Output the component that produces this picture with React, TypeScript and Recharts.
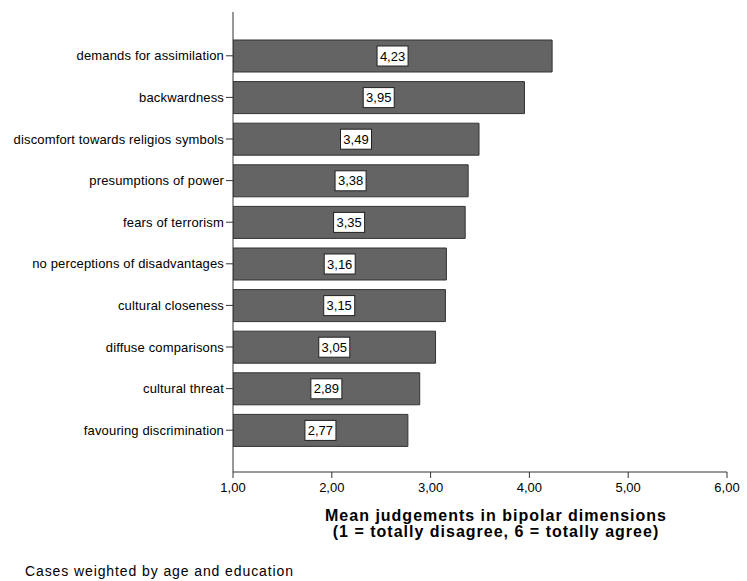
import React from "react";
import { BarChart, Bar, XAxis, YAxis, LabelList } from "recharts";

const categories = [
  "demands for assimilation",
  "backwardness",
  "discomfort towards religios symbols",
  "presumptions of power",
  "fears of terrorism",
  "no perceptions of disadvantages",
  "cultural closeness",
  "diffuse comparisons",
  "cultural threat",
  "favouring discrimination",
];
const means = [4.23, 3.95, 3.49, 3.38, 3.35, 3.16, 3.15, 3.05, 2.89, 2.77];
const xTicks = [1, 2, 3, 4, 5, 6];

const data = categories.map((name, i) => ({ name, mean: means[i] }));

const fmt = (v: number) => v.toFixed(2).replace(".", ",");
const font = "'Liberation Sans', Arial, sans-serif";

// white boxed value label in the middle of each bar
const ValueBox = (props: any) => {
  const { x, y, width, height, value } = props;
  const cx = x + width / 2;
  const cy = y + height / 2;
  return (
    <g>
      <rect x={cx - 15.5} y={cy - 10} width={31} height={20} fill="#fff" stroke="#222" strokeWidth={1} />
      <text x={cx} y={cy + 4.5} textAnchor="middle" fontSize={13} fontFamily={font} fill="#000">
        {fmt(value)}
      </text>
    </g>
  );
};

// single-line category label (recharts would wrap the long one)
const CategoryTick = (props: any) => {
  const { x, y, payload } = props;
  return (
    <text x={x} y={y} dy={4.5} textAnchor="end" fontSize={13} letterSpacing={0.15} fontFamily={font} fill="#000">
      {payload.value}
    </text>
  );
};

export default function App() {
  return (
    <div style={{ position: "absolute", left: 0, top: 0, width: 747, height: 581, background: "#fff", fontFamily: font }}>
      <BarChart
        width={747}
        height={500}
        data={data}
        layout="vertical"
        margin={{ top: 12, right: 20, left: 0, bottom: 0 }}
        barSize={32}
      >
        <XAxis
          type="number"
          dataKey="mean"
          domain={[1, 6]}
          ticks={xTicks}
          allowDataOverflow
          tickFormatter={fmt}
          height={28}
          stroke="#333"
          tick={{ fill: "#000", fontSize: 13, fontFamily: font }}
          tickSize={6}
          tickMargin={5}
        />
        <XAxis xAxisId="top" type="number" domain={[1, 6]} orientation="top" tick={false} height={0} stroke="#888" />
        <YAxis
          type="category"
          dataKey="name"
          width={233}
          stroke="#333"
          tick={<CategoryTick />}
          tickSize={7}
          tickMargin={2}
          padding={{ top: 23, bottom: 21 }}
          interval={0}
        />
        <Bar dataKey="mean" fill="#646464" stroke="#333" strokeWidth={1} isAnimationActive={false}>
          <LabelList dataKey="mean" content={<ValueBox />} />
        </Bar>
      </BarChart>
      <div
        style={{
          position: "absolute",
          left: 246,
          width: 500,
          top: 508,
          textAlign: "center",
          fontWeight: "bold",
          fontSize: 16,
          letterSpacing: 1,
          lineHeight: "16px",
          color: "#000",
        }}
      >
        Mean judgements in bipolar dimensions
        <br />
        (1 = totally disagree, 6 = totally agree)
      </div>
      <div style={{ position: "absolute", left: 25, top: 563, fontSize: 14, letterSpacing: 0.9, lineHeight: "16px", color: "#000" }}>
        Cases weighted by age and education
      </div>
    </div>
  );
}
